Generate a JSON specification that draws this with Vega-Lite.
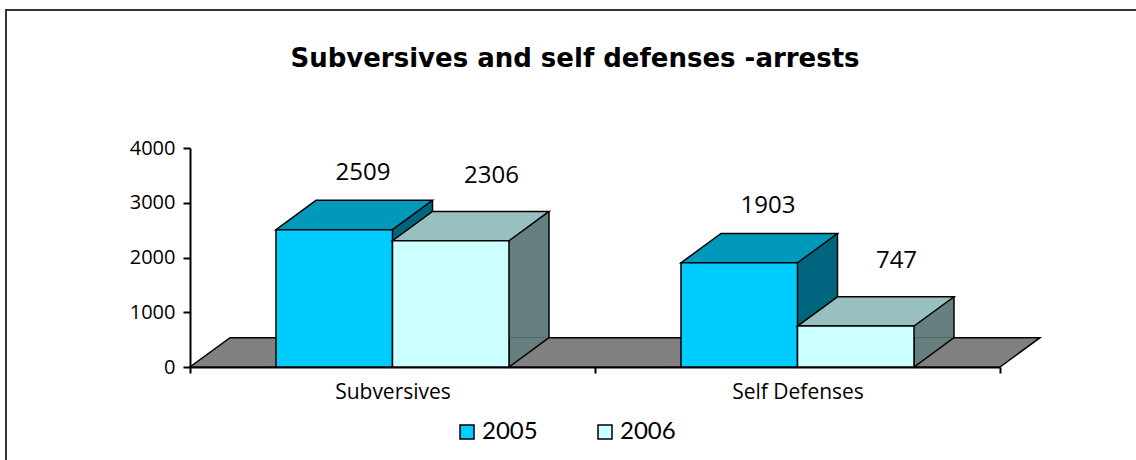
{
  "$schema": "https://vega.github.io/schema/vega-lite/v6.json",
  "width": 1134,
  "height": 454,
  "autosize": {"type": "none"},
  "padding": {"left": 6, "top": 10, "right": -4, "bottom": -4},
  "background": "white",
  "title": {
    "text": "Subversives and self defenses -arrests",
    "font": "DejaVu Sans",
    "fontSize": 26,
    "fontWeight": "bold",
    "color": "black",
    "anchor": "middle",
    "baseline": "alphabetic",
    "offset": 0,
    "dy": 83,
    "dx": 2
  },
  "data": {
    "values": [
      {"category": "Subversives", "year": "2005", "value": 2509},
      {"category": "Subversives", "year": "2006", "value": 2306},
      {"category": "Self Defenses", "year": "2005", "value": 1903},
      {"category": "Self Defenses", "year": "2006", "value": 747}
    ]
  },
  "encoding": {
    "x": {
      "field": "category",
      "type": "nominal",
      "sort": ["Subversives", "Self Defenses"],
      "scale": {"domain": ["Subversives", "Self Defenses"], "range": [184, 994], "paddingInner": 0, "paddingOuter": 0},
      "axis": {
        "orient": "bottom",
        "offset": -97,
        "title": null,
        "tickBand": "extent",
        "domainColor": "black",
        "domainWidth": 2,
        "tickColor": "black",
        "tickWidth": 2,
        "tickSize": 6,
        "labelFont": "Open Sans",
        "labelFontSize": 21,
        "labelColor": "black",
        "labelPadding": 8,
        "labelAngle": 0,
        "grid": false
      }
    },
    "y": {
      "field": "value",
      "type": "quantitative",
      "scale": {"domain": [0, 4000], "range": [357, 138], "nice": false, "zero": true},
      "axis": {
        "orient": "left",
        "offset": -184,
        "values": [0, 1000, 2000, 3000, 4000],
        "format": "d",
        "title": null,
        "grid": false,
        "domainColor": "black",
        "domainWidth": 2,
        "tickColor": "black",
        "tickWidth": 2,
        "tickSize": 7,
        "labelFont": "Open Sans",
        "labelFontSize": 20,
        "labelColor": "black",
        "labelPadding": 8,
        "labelFlush": false,
        "labelOverlap": false
      }
    }
  },
  "layer": [
    {
      "transform": [{"filter": "datum.category == 'Subversives' && datum.year == '2005'"}],
      "mark": {"type": "point", "shape": "M-202.5,0L607.5,0L647.5,-29.3L-162.5,-29.3Z", "size": 4, "filled": true, "opacity": 1, "fill": "#808080", "stroke": "black", "strokeWidth": 1.5},
      "encoding": {"y": {"datum": 0}}
    },
    {
      "transform": [{"filter": "datum.year == '2005'"}],
      "mark": {"type": "bar", "width": 116.5, "xOffset": -18.25, "yOffset": -29.3, "y2Offset": -29.3, "fill": "#006680", "stroke": null},
      "encoding": {"y2": {"datum": 0}}
    },
    {
      "transform": [{"filter": "datum.year == '2005'"}],
      "mark": {"type": "point", "shape": "M98.25,-29.3L58.25,0L58.25,-29.3", "size": 4, "filled": true, "opacity": 1, "fill": "#006680", "stroke": "black", "strokeWidth": 1.5, "xOffset": -58.25},
      "encoding": {"y": {"datum": 0}}
    },
    {
      "transform": [{"filter": "datum.year == '2005'"}],
      "mark": {"type": "rule", "xOffset": 40, "yOffset": -29.3, "y2Offset": -29.3, "color": "black", "strokeWidth": 1.5},
      "encoding": {"y2": {"datum": 0}}
    },
    {
      "transform": [{"filter": "datum.year == '2005'"}],
      "mark": {"type": "point", "shape": "M-58.25,0L58.25,0L98.25,-29.3L-18.25,-29.3Z", "size": 4, "filled": true, "opacity": 1, "fill": "#0099BB", "stroke": "black", "strokeWidth": 1.5, "xOffset": -58.25}
    },
    {
      "transform": [{"filter": "datum.year == '2005'"}],
      "mark": {"type": "bar", "width": 116.5, "xOffset": -58.25, "stroke": "black", "strokeWidth": 1.5, "opacity": 1},
      "encoding": {
        "color": {
          "field": "year",
          "type": "nominal",
          "scale": {"domain": ["2005", "2006"], "range": ["#00CCFF", "#CCFFFF"]},
          "legend": {
            "orient": "none",
            "legendX": 449,
            "legendY": 410,
            "direction": "horizontal",
            "title": null,
            "symbolType": "square",
            "symbolSize": 196,
            "symbolStrokeColor": "black",
            "symbolStrokeWidth": 1.5,
            "symbolOpacity": 1,
            "labelFont": "Lato",
            "labelFontSize": 24,
            "labelColor": "black",
            "labelOffset": 3,
            "columnPadding": 55
          }
        }
      }
    },
    {
      "transform": [{"filter": "datum.year == '2006'"}],
      "mark": {"type": "bar", "width": 116.5, "xOffset": 98.25, "yOffset": -29.3, "y2Offset": -29.3, "fill": "#668080", "stroke": null},
      "encoding": {"y2": {"datum": 0}}
    },
    {
      "transform": [{"filter": "datum.year == '2006'"}],
      "mark": {"type": "point", "shape": "M98.25,-29.3L58.25,0L58.25,-29.3", "size": 4, "filled": true, "opacity": 1, "fill": "#668080", "stroke": "black", "strokeWidth": 1.5, "xOffset": 58.25},
      "encoding": {"y": {"datum": 0}}
    },
    {
      "transform": [{"filter": "datum.year == '2006'"}],
      "mark": {"type": "rule", "xOffset": 156.5, "yOffset": -29.3, "y2Offset": -29.3, "color": "black", "strokeWidth": 1.5},
      "encoding": {"y2": {"datum": 0}}
    },
    {
      "transform": [{"filter": "datum.year == '2006'"}],
      "mark": {"type": "point", "shape": "M-58.25,0L58.25,0L98.25,-29.3L-18.25,-29.3Z", "size": 4, "filled": true, "opacity": 1, "fill": "#99C0C0", "stroke": "black", "strokeWidth": 1.5, "xOffset": 58.25}
    },
    {
      "transform": [{"filter": "datum.year == '2006'"}],
      "mark": {"type": "bar", "width": 116.5, "xOffset": 58.25, "stroke": "black", "strokeWidth": 1.5, "opacity": 1},
      "encoding": {
        "color": {"field": "year", "type": "nominal"}
      }
    },
    {
      "transform": [{"filter": "datum.year == '2005'"}],
      "mark": {"type": "text", "font": "Open Sans", "fontSize": 24, "color": "black", "xOffset": -29.5, "yOffset": -57, "baseline": "middle", "align": "center"},
      "encoding": {"text": {"field": "value", "type": "quantitative", "format": "d"}}
    },
    {
      "transform": [{"filter": "datum.year == '2006'"}],
      "mark": {"type": "text", "font": "Open Sans", "fontSize": 24, "color": "black", "xOffset": 99, "yOffset": -65, "baseline": "middle", "align": "center"},
      "encoding": {"text": {"field": "value", "type": "quantitative", "format": "d"}}
    }
  ],
  "config": {
    "view": {"stroke": "#333333", "strokeWidth": 2}
  }
}
